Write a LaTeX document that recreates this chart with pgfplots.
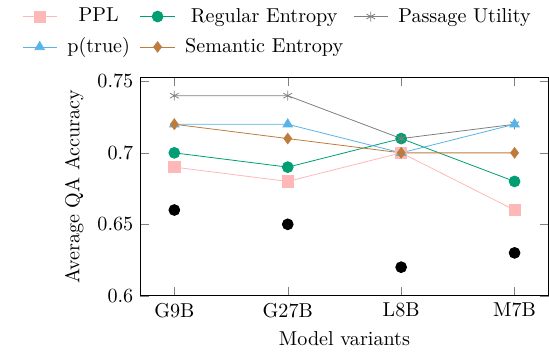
\documentclass[border=0pt]{standalone}
\usepackage{pgfplots}
\pgfplotsset{compat=1.18}
\definecolor{cppl}{RGB}{255,184,184}
\definecolor{cre}{RGB}{0,158,115}
\definecolor{cpu}{RGB}{128,128,128}
\definecolor{cpt}{RGB}{86,180,233}
\definecolor{cse}{RGB}{190,124,60}
\begin{document}
\begin{tikzpicture}
\begin{axis}[
  name=ax,
  scale only axis,
  width=203pt, height=108.5pt,
  xmin=-0.3, xmax=3.3,
  ymin=0.6, ymax=0.7527,
  xtick={0,1,2,3},
  xticklabels={G9B,G27B,L8B,M7B},
  ytick={0.6,0.65,0.7,0.75},
  yticklabel style={/pgf/number format/.cd,fixed,precision=2},
  xlabel={Model variants},
  ylabel={Average QA Accuracy},
  legend columns=3,
  legend cell align=center,
  legend style={draw=none, at={(-0.32,1.06)}, anchor=south west, fill=none,
    inner xsep=6pt, column sep=3pt, row sep=2.4pt},
]
\addplot[color=cppl, mark=square*, mark size=2.8pt, mark options={fill=cppl}] coordinates {(0,0.69) (1,0.68) (2,0.70) (3,0.66)};
\addlegendentry{PPL}
\addplot[color=cre, mark=*, mark size=2.7pt] coordinates {(0,0.70) (1,0.69) (2,0.71) (3,0.68)};
\addlegendentry{Regular Entropy}
\addplot[color=cpu, mark=asterisk, mark size=2.5pt] coordinates {(0,0.74) (1,0.74) (2,0.71) (3,0.72)};
\addlegendentry{Passage Utility}
\addplot[color=cpt, mark=triangle*, mark size=2.7pt] coordinates {(0,0.72) (1,0.72) (2,0.70) (3,0.72)};
\addlegendentry{p(true)}
\addplot[color=cse, mark=diamond*, mark size=2.6pt] coordinates {(0,0.72) (1,0.71) (2,0.70) (3,0.70)};
\addlegendentry{Semantic Entropy}
\addplot[only marks, black, mark=*, mark size=2.7pt, forget plot] coordinates {(0,0.66) (1,0.65) (2,0.62) (3,0.63)};
\end{axis}
\path (current bounding box.west) ++(-5pt,0);
\end{tikzpicture}
\end{document}
